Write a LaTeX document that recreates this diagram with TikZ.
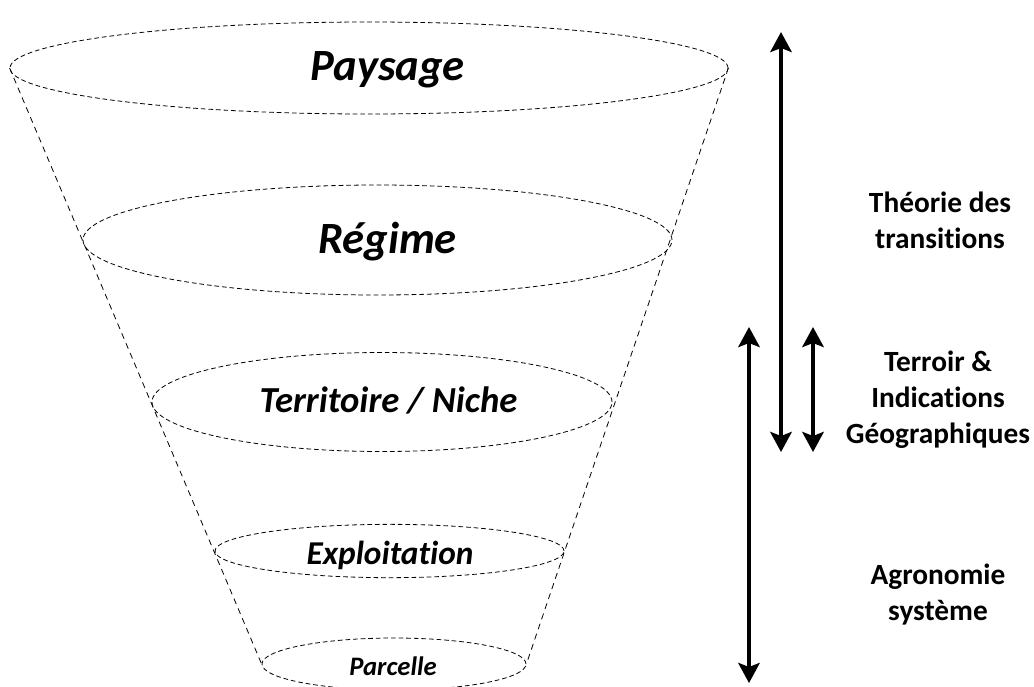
\documentclass[tikz,border=0pt]{standalone}
\usepackage{fontspec}
\setmainfont{Carlito}[Ligatures=NoCommon]
\usetikzlibrary{shapes.geometric,arrows.meta}
\begin{document}
\begin{tikzpicture}[x=0.75pt,y=-0.75pt,
  level/.style={draw,dashed,dash pattern=on 3.5pt off 2.2pt,line width=0.6pt,ellipse,inner sep=0pt},
  side/.style={dashed,dash pattern=on 4.5pt off 3.5pt,line width=0.6pt},
  lbl/.style={anchor=base,inner sep=0pt},
  rlbl/.style={font=\bfseries\fontsize{22}{27}\selectfont,align=center,inner sep=0pt,anchor=base},
  dbl/.style={line width=3pt,{Stealth[length=15pt,width=16pt,inset=3pt]}-{Stealth[length=15pt,width=16pt,inset=3pt]}}]
\useasboundingbox (0,0) rectangle (1034,686);
\begin{scope}
\clip (0,0) rectangle (1034,686);
\node[level,minimum width=538.5pt,minimum height=69pt] (e1) at (369,68) {};
\node[level,minimum width=441.75pt,minimum height=82.5pt] (e2) at (377.5,240) {};
\node[level,minimum width=345pt,minimum height=74.25pt] (e3) at (382,402) {};
\node[level,minimum width=261.75pt,minimum height=40pt] (e4) at (389.5,551) {};
\node[level,minimum width=198pt,minimum height=39pt] (e5) at (394,664) {};
\draw[side] (e1.west) -- (e5.west);
\draw[side] (e1.east) -- (e5.east);
\end{scope}
\node[lbl,font=\bfseries\itshape\fontsize{33.5}{38}\selectfont] (t1) at (387.5,80) {Paysage};
\node[lbl,font=\bfseries\itshape\fontsize{33.5}{38}\selectfont] (t2) at (387.5,253) {Régime};
\node[lbl,font=\bfseries\itshape\fontsize{27.5}{32}\selectfont] (t3) at (388.5,412) {Territoire / Niche};
\node[lbl,font=\bfseries\itshape\fontsize{25}{30}\selectfont] (t4) at (390,564) {Exploitation};
\node[lbl,font=\bfseries\itshape\fontsize{20}{24}\selectfont] (t5) at (393,675) {Parcelle};
\coordinate (a1t) at (781,32);
\coordinate (a1b) at (781,452);
\coordinate (a2t) at (813,327);
\coordinate (a2b) at (813,452);
\coordinate (a3t) at (749,327);
\coordinate (a3b) at (749,683);
\draw[dbl] (a1t) -- (a1b);
\draw[dbl] (a2t) -- (a2b);
\draw[dbl] (a3t) -- (a3b);
\node[rlbl] (r1) at (940,248) {Théorie des\\transitions};
\node[rlbl] (r2) at (938,443) {Terroir \&\\Indications\\Géographiques};
\node[rlbl] (r3) at (938,620) {Agronomie\\système};
\end{tikzpicture}
\end{document}
